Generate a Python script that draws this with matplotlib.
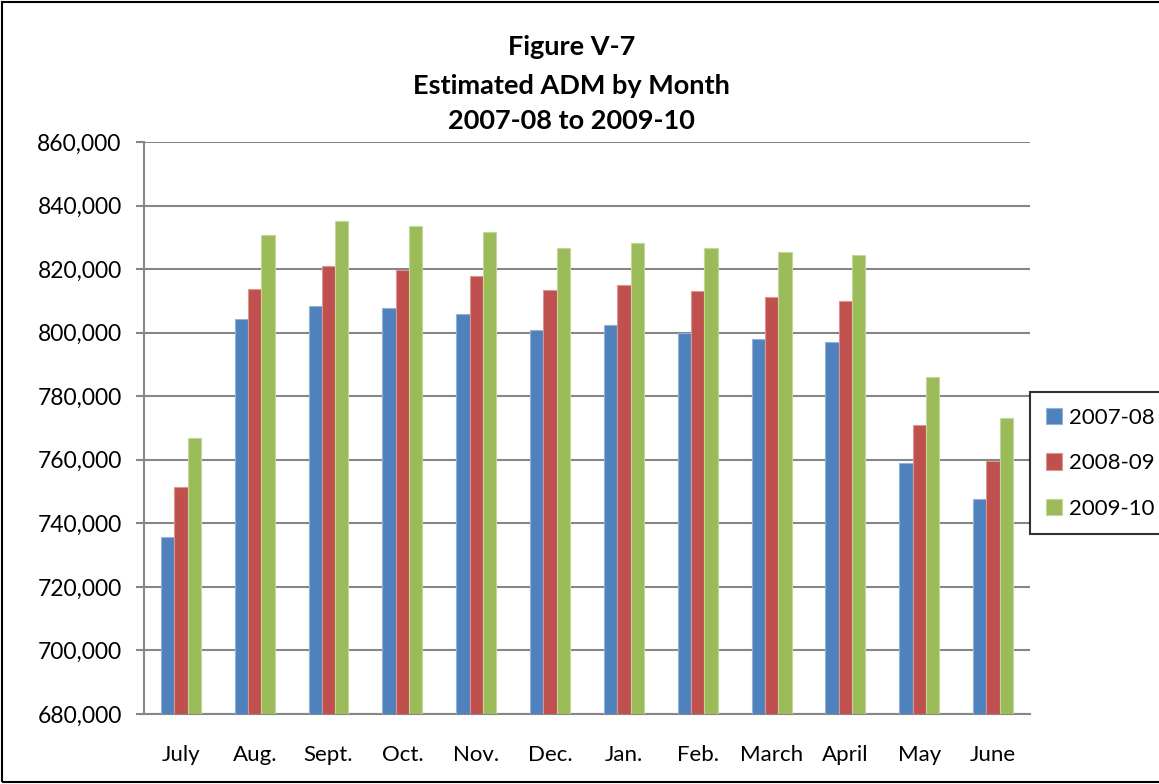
import matplotlib
matplotlib.use("Agg")
import matplotlib.pyplot as plt
import numpy as np
from matplotlib.patches import Rectangle
from matplotlib.ticker import FuncFormatter, MultipleLocator

months = ["July", "Aug.", "Sept.", "Oct.", "Nov.", "Dec.", "Jan.", "Feb.", "March", "April", "May", "June"]
series_names = ["2007-08", "2008-09", "2009-10"]
adm_2007_08 = [735600, 804200, 808300, 807600, 805800, 800700, 802500, 800000, 797900, 797100, 758900, 747500]
adm_2008_09 = [751500, 813800, 821000, 819700, 817800, 813400, 815000, 813100, 811300, 810000, 770900, 759500]
adm_2009_10 = [766700, 830700, 835100, 833500, 831800, 826600, 828200, 826700, 825400, 824500, 786000, 773000]
colors = ["#4F81BD", "#C0504D", "#9BBB59"]
edge_colors = ["#95B3D7", "#D99694", "#C3D69B"]

plt.rcParams['font.family'] = ['Lato', 'DejaVu Sans']

fig = plt.figure(figsize=(11.59, 7.84), dpi=100)
ax = fig.add_axes([0.1242, 0.0893, 0.8887 - 0.1242, 0.8189 - 0.0893])

x = np.arange(len(months))
w = 0.18
handles = []
for i, (vals, c, ec) in enumerate(zip([adm_2007_08, adm_2008_09, adm_2009_10], colors, edge_colors)):
    b = ax.bar(x + (i - 1) * w, np.array(vals) - 680000, bottom=680000, width=w,
               color=c, edgecolor=ec, linewidth=0.8, label=series_names[i], zorder=3)
    handles.append(b)

ax.set_xlim(-0.5, len(months) - 0.5)
ax.set_ylim(680000, 860000)
ax.yaxis.set_major_locator(MultipleLocator(20000))
ax.yaxis.set_major_formatter(FuncFormatter(lambda v, p: f"{int(v):,}"))
ax.set_xticks(x)
ax.set_xticklabels(months, fontsize=16)
ax.tick_params(axis='y', labelsize=16.5, length=6, width=1.5, color='#868686', pad=10)
ax.tick_params(axis='x', length=0, pad=22)
ax.grid(axis='y', color='#868686', linewidth=1.5, zorder=0)
for s in ['top', 'right']:
    ax.spines[s].set_visible(False)
ax.spines['left'].set_color('#868686')
ax.spines['left'].set_linewidth(1.5)
ax.spines['bottom'].set_color('#868686')
ax.spines['bottom'].set_linewidth(1.5)

tx = 0.493
fig.text(tx, 0.940, "Figure V-7", ha='center', va='center', fontsize=19.5, fontweight='bold')
fig.text(tx, 0.890, "Estimated ADM by Month", ha='center', va='center', fontsize=19.5, fontweight='bold')
fig.text(tx, 0.846, "2007-08 to 2009-10", ha='center', va='center', fontsize=19.5, fontweight='bold')

leg = fig.legend(handles=handles, labels=series_names, loc='upper left',
                 bbox_to_anchor=(0.8887, 0.5), borderaxespad=0, fontsize=16, frameon=True,
                 fancybox=False, edgecolor='black', handlelength=0.75, handleheight=0.75,
                 labelspacing=1.15, borderpad=0.7, handletextpad=0.3)
leg.get_frame().set_linewidth(1.5)

fig.patches.append(Rectangle((0.002, 0.003), 1.1, 0.994, transform=fig.transFigure,
                             fill=False, edgecolor='black', linewidth=1.5))

fig.savefig("out.png", dpi=100)
